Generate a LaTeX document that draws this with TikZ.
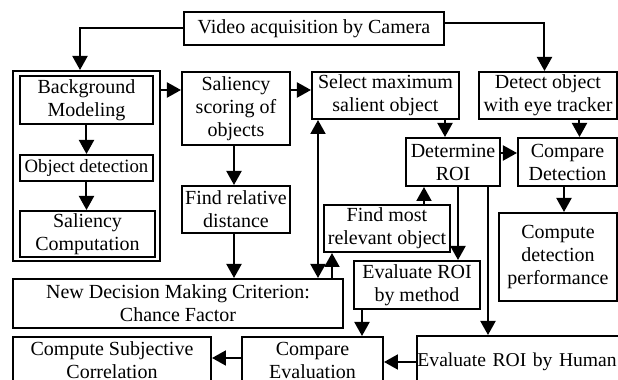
\documentclass[tikz,border=0pt]{standalone}
\usepackage{fontspec}
\setmainfont{Liberation Serif}
\usetikzlibrary{arrows.meta}
\begin{document}
\begin{tikzpicture}[x=0.5pt,y=-0.5pt,
  box/.style={draw,line width=1pt,inner sep=0pt,align=center,font=\fontsize{10}{11.5}\selectfont},
  arr/.style={line width=1pt,-{Triangle[length=7pt,width=7.5pt]}},
  darr/.style={line width=1pt,{Triangle[length=7pt,width=7.5pt]}-{Triangle[length=7pt,width=7.5pt]}}]
\useasboundingbox (0,0) rectangle (618,380);
\clip (0,0) rectangle (618,380);
\node[box,minimum width=130pt,minimum height=16.5pt] (video) at (314,28.5) {Video acquisition by Camera};
\node[box,minimum width=73.5pt,minimum height=95pt] (outer) at (86.5,166) {};
\node[box,minimum width=66.5pt,minimum height=24pt] (bg) at (86.5,100) {Background\\Modeling};
\node[box,minimum width=66.5pt,minimum height=13pt,font=\fontsize{9.4}{11}\selectfont] (objdet) at (86.5,168) {Object detection};
\node[box,minimum width=67.5pt,minimum height=23pt] (salcomp) at (87.5,234) {Saliency\\Computation};
\node[box,minimum width=54pt,minimum height=36.5pt] (salscore) at (236,108.5) {Saliency\\scoring of\\objects};
\node[box,minimum width=73.5pt,minimum height=23.5pt] (selmax) at (385.5,95.5) {Select maximum\\salient object};
\node[box,minimum width=69pt,minimum height=23.5pt] (detect) at (548,95.5) {Detect object\\with eye tracker};
\node[box,minimum width=47pt,minimum height=24pt] (determine) at (453,162) {Determine\\ROI};
\node[box,minimum width=49.5pt,minimum height=24pt] (compdet) at (567.5,162) {Compare\\Detection};
\node[box,minimum width=59pt,minimum height=44pt] (compperf) at (558,257) {Compute\\detection\\performance};
\node[box,minimum width=54pt,minimum height=23.5pt] (findrel) at (236,209.5) {Find relative\\distance};
\node[box,minimum width=165pt,minimum height=24.5pt] (newdec) at (178,303.5) {New Decision Making Criterion:\\Chance Factor};
\node[box,minimum width=63pt,minimum height=23.5pt] (findmost) at (387,228.5) {Find most\\relevant object};
\node[box,minimum width=63pt,minimum height=24pt] (evalmeth) at (417,285) {Evaluate ROI\\by method};
\node[box,inner xsep=0.3pt,text width=111pt,minimum height=26pt,align=left,font=\fontsize{9.8}{11.5}\selectfont] (evalhuman) at (528.5,362) {Evaluate ROI by Human};
\node[box,minimum width=70.5pt,minimum height=30pt] (compeval) at (312.5,367) {\parbox{70pt}{\centering Compare\\Evaluation\par\vspace{7pt}}};
\node[box,minimum width=99pt,minimum height=30pt] (compsubj) at (112,367) {\parbox{98pt}{\centering Compute Subjective\\Correlation\par\vspace{7pt}}};
% connectors
\draw[arr] (video.west) -| ([xshift=-3.25pt]outer.north);
\draw[arr] ([yshift=2.75pt]video.east) -| ([xshift=-1.75pt]detect.north);
\draw[arr] (bg.south) -- (objdet.north);
\draw[arr] (objdet.south) -- (objdet.south |- salcomp.north);
\draw[arr] ([yshift=9.25pt]salscore.west -| outer.east) -- ([yshift=9.25pt]salscore.west);
\draw[arr] ([yshift=2.75pt]selmax.west -| salscore.east) -- ([yshift=2.75pt]selmax.west);
\draw[arr] ([xshift=-4pt]determine.north |- selmax.south) -- ([xshift=-4pt]determine.north);
\draw[arr] ([yshift=4.5pt]determine.east) -- ([yshift=4.5pt]compdet.west);
\draw[arr] ([xshift=15.75pt]detect.south) -- ([xshift=15.75pt]detect.south |- compdet.north);
\draw[arr] ([xshift=3pt]compperf.north |- compdet.south) -- ([xshift=3pt]compperf.north);
\draw[arr] ([xshift=-1pt]salscore.south) -- ([xshift=-1pt]findrel.north);
\draw[arr] ([xshift=-1pt]findrel.south) -- ([xshift=-1pt]findrel.south |- newdec.north);
\draw[darr] ([xshift=-33.75pt]selmax.south) -- ([xshift=-33.75pt]selmax.south |- newdec.north);
\draw[arr] ([xshift=-27.5pt]findmost.south |- newdec.north) -- ([xshift=-27.5pt]findmost.south);
\draw[arr] ([xshift=18.5pt]findmost.north) -- ([xshift=18.5pt]findmost.north |- determine.south);
\draw[arr] ([xshift=2.5pt]determine.south) -- ([xshift=2.5pt]determine.south |- evalmeth.north);
\draw[arr] ([xshift=17.5pt]determine.south) -- ([xshift=17.5pt]determine.south |- evalhuman.north);
\draw[arr] ([xshift=-27.5pt]evalmeth.south) -- ([xshift=-27.5pt]evalmeth.south |- compeval.north);
\draw[arr] (evalhuman.west) -- (evalhuman.west -| compeval.east);
\draw[arr] ([yshift=4.5pt]compeval.west) -- ([yshift=4.5pt]compeval.west -| compsubj.east);
\end{tikzpicture}
\end{document}
